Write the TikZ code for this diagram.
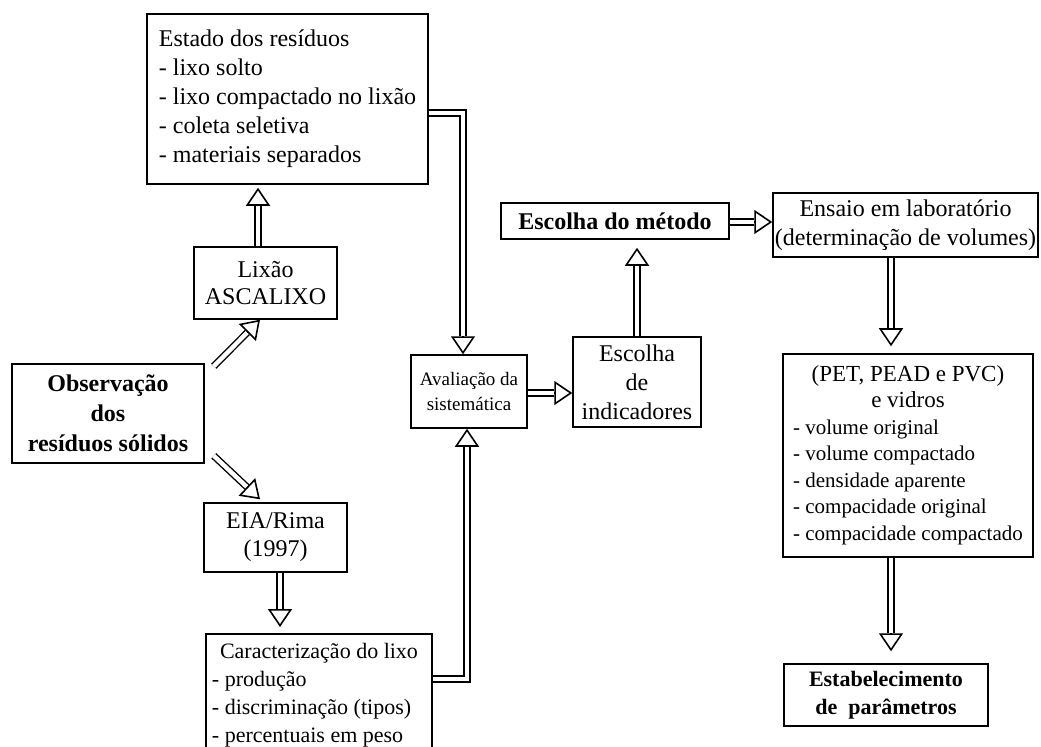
\documentclass[tikz,border=0pt]{standalone}
\usepackage{fontspec}
\setmainfont{Liberation Serif}
\usetikzlibrary{arrows.meta,calc}

\newcommand\fsz[2]{\fontsize{#1}{#2}\selectfont}

\tikzset{
  box/.style={draw, line width=0.75bp, inner sep=0pt, font=\fsz{12bp}{14.5bp}},
  shaft/.style={draw, line width=0.7bp, double=white, double distance=2.2bp},
  head/.style={line width=0.8bp, -{Triangle[open, length=9bp, width=12bp]}},
}

\begin{document}
\begin{tikzpicture}[x=0.5bp, y=-0.5bp]
\useasboundingbox (0,0) rectangle (1041,747);
\clip (0,0) rectangle (1041,747);

% ---- boxes ----
\node[box, align=left, minimum width=140.5bp, minimum height=85bp] (est) at (287.5,99)
  {Estado dos resíduos\\- lixo solto\\- lixo compactado no lixão\\- coleta seletiva\\- materiais separados};
\node[box, align=center, minimum width=71.5bp, minimum height=36bp, font=\fsz{12bp}{13.5bp}] (lix) at (265.5,283)
  {Lixão\\ASCALIXO};
\node[box, align=center, minimum width=96bp, minimum height=49.5bp, font=\fsz{12bp}{15bp}\bfseries] (obs) at (108,413.5)
  {Observação\\dos\\resíduos sólidos};
\node[box, align=center, minimum width=71.5bp, minimum height=34.5bp, font=\fsz{12bp}{14bp}] (eia) at (275.5,537.5)
  {EIA/Rima\\(1997)};
\node[box, anchor=north, minimum width=113bp, inner ysep=2.5bp, text depth=60bp, font=\fsz{11bp}{14bp}] (car) at (319,633)
  {\begin{tabular}[t]{@{}p{107bp}@{}}
     \multicolumn{1}{@{}c@{}}{Caracterização do lixo}\\
     - produção\\
     - discriminação (tipos)\\
     - percentuais em peso
   \end{tabular}};
\node[box, align=center, minimum width=58bp, minimum height=36.5bp, font=\fsz{9.5bp}{12.5bp}] (ava) at (469,391.5)
  {Avaliação da\\sistemática};
\node[box, align=center, minimum width=64bp, minimum height=45bp] (ind) at (637,382)
  {Escolha\\de\\indicadores};
\node[box, align=center, minimum width=114bp, minimum height=18bp, font=\fsz{12bp}{14.5bp}\bfseries] (met) at (615,221)
  {Escolha do método};
\node[box, align=center, minimum width=132.5bp, minimum height=32bp] (ens) at (905.5,225)
  {Ensaio em laboratório\\(determinação de volumes)};
\node[box, minimum width=125bp, minimum height=101.5bp, font=\fsz{10.5bp}{13.25bp}] (pet) at (908,455.5)
  {\begin{tabular}{@{}l@{}}
     \multicolumn{1}{@{}c@{}}{\fsz{11.5bp}{13.25bp}(PET, PEAD e PVC)}\\
     \multicolumn{1}{@{}c@{}}{\fsz{11.5bp}{13.25bp}e vidros}\\
     - volume original\\
     - volume compactado\\
     - densidade aparente\\
     - compacidade original\\
     - compacidade compactado
   \end{tabular}};
\node[box, align=center, minimum width=102bp, minimum height=31bp, font=\fsz{11bp}{14bp}\bfseries] (stb) at (886,695)
  {Estabelecimento\\de\ \ parâmetros};

% ---- arrow end points ----
\coordinate (s1) at ($(lix.north)+(-7.5,0)$);
\coordinate (t1) at ($(est.south)+(-29.5,3)$);
\coordinate (s2) at ($(obs.north east)+(9,3)$);
\coordinate (t2) at ($(lix.south)+(-5.5,0)$);
\coordinate (s3) at ($(obs.south east)+(9,-8)$);
\coordinate (t3) at ($(eia.north)+(-15.5,-3)$);
\coordinate (s4) at ($(eia.south)+(4.5,0)$);
\coordinate (t4) at ($(car.north)+(-39,-6)$);
\coordinate (s5) at ($(est.east)+(0,14)$);
\coordinate (t5) at ($(ava.north)+(-6,0)$);
\coordinate (s6) at ($(car.north east)+(0,46)$);
\coordinate (t6) at ($(ava.south)+(-2,0)$);
\coordinate (s7) at ($(ava.east)+(0,1.5)$);
\coordinate (t7) at (ind.west |- s7);
\coordinate (s8) at (ind.north);
\coordinate (t8) at ($(met.south)+(22,8)$);
\coordinate (s9) at ($(met.east)+(0,1)$);
\coordinate (t9) at (ens.west |- s9);
\coordinate (s10) at ($(ens.south)+(-14.5,0)$);
\coordinate (t10) at ($(pet.north)+(-17,-7)$);
\coordinate (s11) at ($(pet.south)+(-17,0)$);
\coordinate (t11) at ($(stb.north)+(5,-12)$);

% head bases
\coordinate (b1) at ($(t1)+(0,18)$);
\coordinate (b2) at ($(t2)!9bp!(s2)$);
\coordinate (b3) at ($(t3)!9bp!(s3)$);
\coordinate (b4) at ($(t4)+(0,-18)$);
\coordinate (b5) at ($(t5)+(0,-18)$);
\coordinate (b6) at ($(t6)+(0,18)$);
\coordinate (b7) at ($(t7)+(-18,0)$);
\coordinate (b8) at ($(t8)+(0,18)$);
\coordinate (b9) at ($(t9)+(-18,0)$);
\coordinate (b10) at ($(t10)+(0,-18)$);
\coordinate (b11) at ($(t11)+(0,-18)$);

% ---- connectors ----
\foreach \i in {1,2,3,4,7,8,9,10,11} {
  \draw[shaft] (s\i) -- (b\i);
  \draw[head] (b\i) -- (t\i);
}
\draw[shaft] (s5) -| (b5);
\draw[head] (b5) -- (t5);
\draw[shaft] (s6) -| (b6);
\draw[head] (b6) -- (t6);

\end{tikzpicture}
\end{document}
